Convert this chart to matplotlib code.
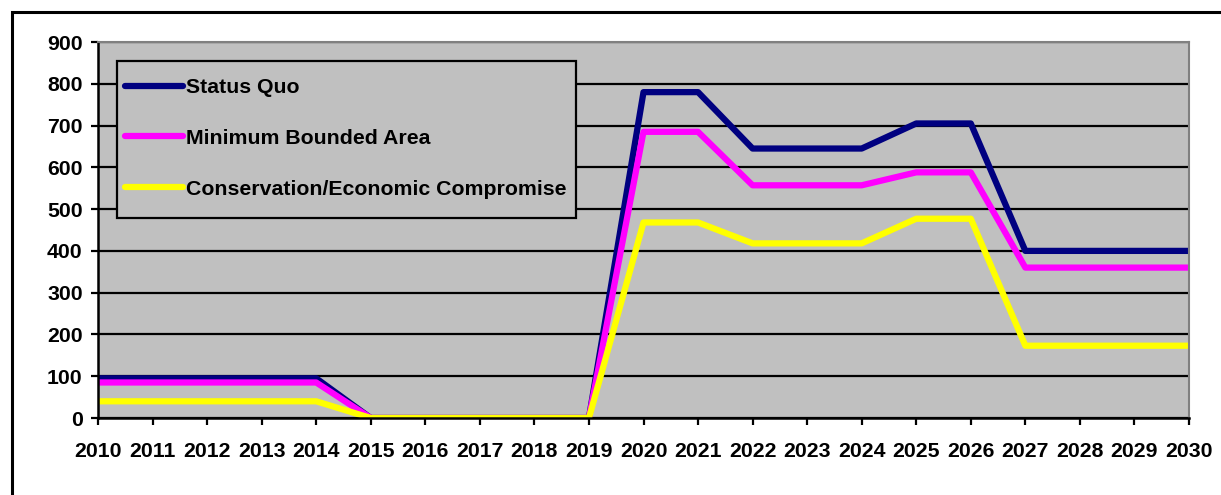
import numpy as np
import matplotlib.pyplot as plt
from matplotlib.patches import Rectangle

years = list(range(2010, 2031))
status_quo = [95, 95, 95, 95, 95, 0, 0, 0, 0, 0,
              780, 780, 645, 645, 645, 705, 705, 400, 400, 400, 400]
min_bounded = [85, 85, 85, 85, 85, 0, 0, 0, 0, 0,
               685, 685, 557, 557, 557, 588, 588, 360, 360, 360, 360]
compromise = [40, 40, 40, 40, 40, 0, 0, 0, 0, 0,
              468, 468, 418, 418, 418, 477, 477, 173, 173, 173, 173]

plt.rcParams['font.family'] = ['Liberation Sans', 'DejaVu Sans']
plt.rcParams['font.weight'] = 'bold'

W, H = 1221, 495
fs = 15.3
fig = plt.figure(figsize=(W / 100, H / 100), dpi=100)
fig.patch.set_facecolor('white')
# outer chart frame
fig.patches.append(Rectangle((12 / W, -0.1), 1.2, 1 - 12 / H + 0.1, transform=fig.transFigure,
                             fill=False, edgecolor='black', linewidth=2.2))

ax = fig.add_axes([98 / W, 1 - 418 / H, (1189 - 98) / W, (418 - 42) / H])
ax.set_facecolor('#c0c0c0')

ax.plot(years, status_quo, color='#000080', lw=4.5, label='Status Quo', solid_capstyle='butt')
ax.plot(years, min_bounded, color='#ff00ff', lw=4.5, label='Minimum Bounded Area', solid_capstyle='butt')
ax.plot(years, compromise, color='#ffff00', lw=4.5, label='Conservation/Economic Compromise',
        solid_capstyle='butt')

ax.set_xlim(2010, 2030)
ax.set_ylim(0, 900)
ax.set_xticks(years)
ax.set_yticks(np.arange(0, 901, 100))
ax.yaxis.grid(True, color='black', lw=1.6)
ax.set_axisbelow(True)
ax.tick_params(axis='both', direction='out', length=5, width=1.6, labelsize=fs)
ax.tick_params(axis='x', pad=12)
ax.tick_params(axis='y', pad=6)
for lab in ax.get_xticklabels() + ax.get_yticklabels():
    lab.set_fontweight('bold')

ax.spines['left'].set_linewidth(1.8)
ax.spines['bottom'].set_linewidth(1.8)
ax.spines['top'].set_color('#808080')
ax.spines['right'].set_color('#808080')
ax.spines['top'].set_linewidth(1.5)
ax.spines['right'].set_linewidth(1.5)

# legend box drawn separately (Excel-style padding)
box = Rectangle((117 / W, 1 - 218 / H), (576 - 117) / W, (218 - 61) / H, transform=fig.transFigure,
                facecolor='#c0c0c0', edgecolor='black', linewidth=1.6, zorder=4, clip_on=False)
ax.add_patch(box)

leg = ax.legend(loc='upper left', bbox_to_anchor=(125 / W, 1 - 78 / H), bbox_transform=fig.transFigure,
                borderaxespad=0, frameon=False, prop={'size': fs, 'weight': 'bold'},
                handlelength=2.75, handletextpad=0.1, labelspacing=1.5, borderpad=0)
leg.set_zorder(5)
for line in leg.get_lines():
    line.set_linewidth(4.5)
    line.set_solid_capstyle('round')

fig.savefig('out.png', dpi=100)
